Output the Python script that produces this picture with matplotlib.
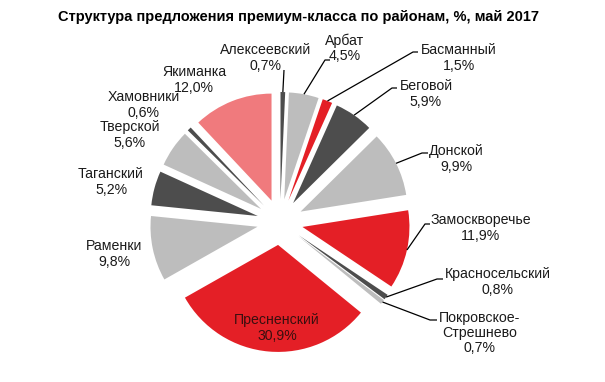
"""Pie chart: premium-class supply by district, May 2017"""

import numpy as np
import matplotlib.pyplot as plt

DISTRICTS = ["Алексеевский", "Арбат", "Басманный", "Беговой", "Донской",
             "Замоскворечье", "Красносельский", "Покровское-\nСтрешнево",
             "Пресненский", "Раменки", "Таганский", "Тверской",
             "Хамовники", "Якиманка"]
SHARES = [0.7, 4.5, 1.5, 5.9, 9.9, 11.9, 0.8, 0.7, 30.9, 9.8, 5.2, 5.6,
          0.6, 12.0]

RED = "#e41f26"
PINK = "#f07a7d"
DARK = "#4d4d4d"
LIGHT = "#bdbdbd"
COLORS = [DARK, LIGHT, RED, DARK, LIGHT, RED, DARK, LIGHT, RED, LIGHT,
          DARK, LIGHT, DARK, PINK]

TITLE = "Структура предложения премиум-класса по районам, %, май 2017"

# layout in pixels (y measured from top of the 605x382 image)
W, H = 605, 382
CX, CY = 280, 222
RADIUS = 107
EXPLODE = 23
FS = 10.2

# label centre, elbow of the leader line (None = no leader / inside)
LABEL_POS = [(266, 58), (345, 48), (459, 58), (426, 94), (456, 159),
             (481, 228), (498, 282), (480, 333), (277, 328), (114, 254),
             (111, 182), (130, 135), (144, 105), (194, 80)]
ELBOW = [(284, 70), (325, 60), (413, 52), (392, 88), (422, 153),
         (425, 224), (437, 279), (430, 320), None, None,
         None, None, None, None]
TAIL = [None, 330, 418, 397, 428, 430, 443, 437, None, None,
        None, None, None, None]


def yup(y):
    return H - y


fig = plt.figure(figsize=(W / 100, H / 100), dpi=100)
ax = fig.add_axes([0, 0, 1, 1])
plt.rcParams["font.family"] = ["Liberation Sans", "DejaVu Sans"]

wedges, _ = ax.pie(SHARES, colors=COLORS, startangle=90, counterclock=False,
                   radius=RADIUS, center=(CX, yup(CY)),
                   explode=[EXPLODE] * len(SHARES),
                   wedgeprops=dict(linewidth=0))

ax.set_xlim(0, W)
ax.set_ylim(0, H)
ax.set_aspect("auto")
ax.axis("off")

# angle of every wedge middle, clockwise from 12 o'clock
cum = np.cumsum([0] + SHARES)
mids = (cum[:-1] + cum[1:]) / 2 / cum[-1] * 2 * np.pi

for i, name in enumerate(DISTRICTS):
    tx, ty = LABEL_POS[i]
    colour = "#3a0f0f" if i == 8 else "#1a1a1a"
    ax.text(tx, yup(ty), "{}\n{:.1f}%".format(name, SHARES[i]).replace(".", ","),
            ha="center", va="center", fontsize=FS, color=colour,
            linespacing=1.1, family=["Liberation Sans", "DejaVu Sans"])

    if ELBOW[i] is None:
        continue
    # anchor on the outer rim of the exploded wedge
    r = RADIUS + EXPLODE
    ax_x = CX + r * np.sin(mids[i])
    ax_y = CY - r * np.cos(mids[i])
    ex, ey = ELBOW[i]
    xs = [ax_x, ex]
    ys = [yup(ax_y), yup(ey)]
    if TAIL[i] is not None:
        xs.append(TAIL[i])
        ys.append(yup(ey))
    ax.plot(xs, ys, color="black", linewidth=0.9, solid_capstyle="butt")

fig.text(298 / W, 1 - 17 / H, TITLE, ha="center", va="center",
         fontsize=10.5, fontweight="bold", color="black",
         family=["Liberation Sans", "DejaVu Sans"])

plt.savefig("out.png", dpi=100)
